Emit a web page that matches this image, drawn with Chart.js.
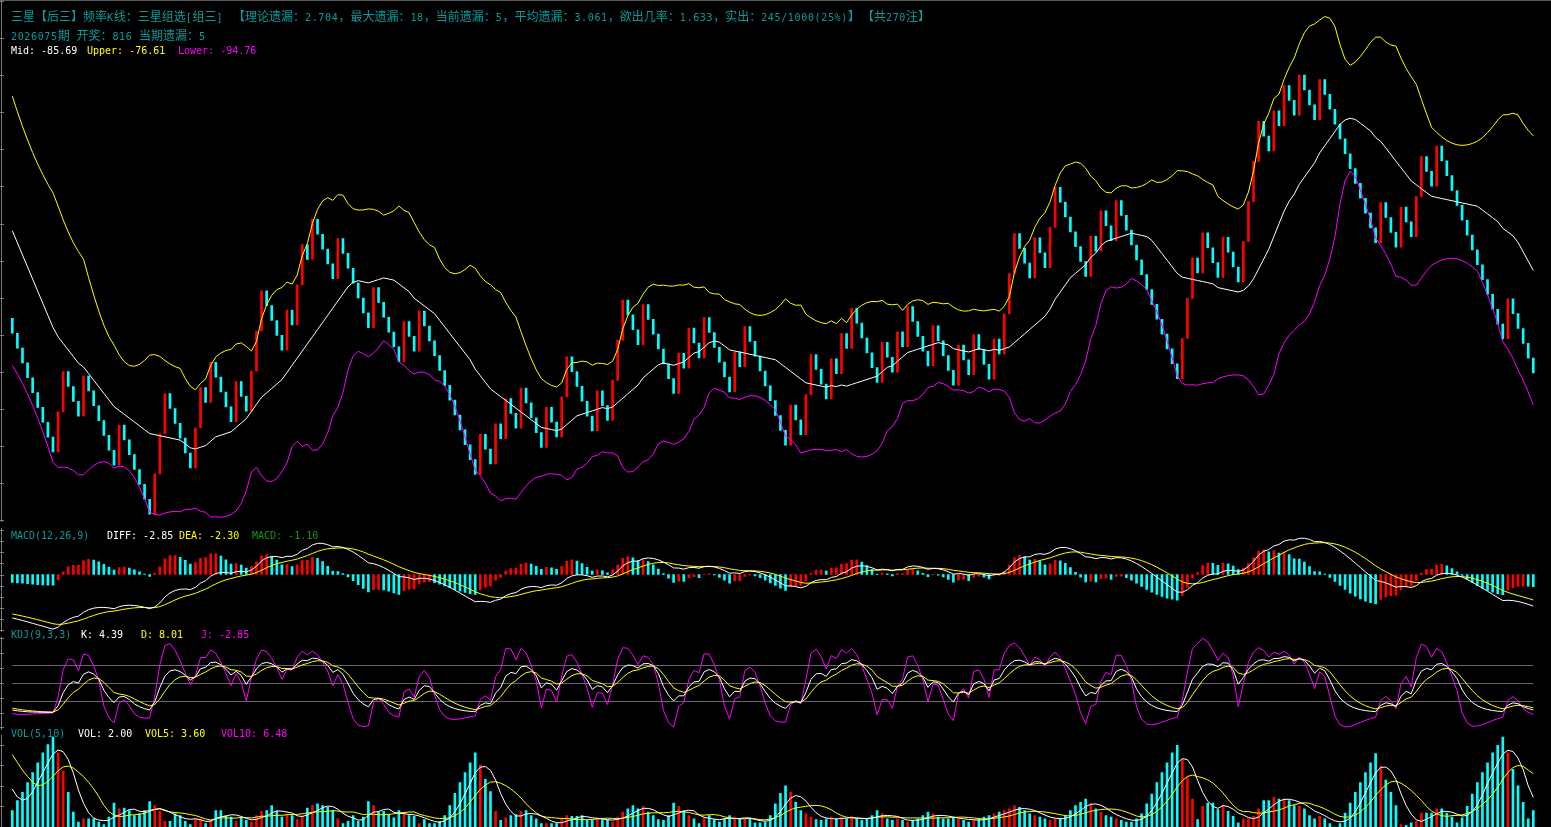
<!DOCTYPE html>
<html lang="zh">
<head>
<meta charset="UTF-8">
<title>三星【后三】频率K线</title>
<script src="https://cdn.jsdelivr.net/npm/chart.js"></script>
<style>
  html, body { margin: 0; padding: 0; background: #000; width: 1551px; height: 827px; overflow: hidden; }
  canvas { position: absolute; left: 0; }
  .lbl { position: absolute; white-space: pre; line-height: 14px; z-index: 5; }
  .asc { font: 10px "DejaVu Sans Mono", monospace; }
  .cjk { font: 12px "Noto Sans CJK SC", sans-serif; }
  .wide .asc { letter-spacing: 0.65px; }
  #topline { position: absolute; left: 0; top: 0; width: 1551px; height: 1px; background: #5a5a5a; }
</style>
</head>
<body>
<div id="topline"></div>
<canvas id="main" width="1551" height="522" style="top:0"></canvas>
<canvas id="macd" width="1551" height="104" style="top:528px"></canvas>
<canvas id="kdj" width="1551" height="93" style="top:637px"></canvas>
<canvas id="vol" width="1551" height="92" style="top:735px"></canvas>

<script>
// one flag per period: 1 = red (hit), 0 = cyan (miss)
const hits = [
  0,0,0,0,0,0,0,0,0,1, 1,0,0,0,1,0,0,0,0,0, 0,1,0,0,0,0,0,0,1,1, 1,0,0,0,0,0,1,1,0,1,
  0,0,0,0,1,0,0,1,1,1, 0,0,0,0,1,0,1,1,0,1, 0,0,0,0,1,0,0,0,0,0, 0,1,0,0,0,0,0,1,0,0,
  1,0,0,0,0,0,0,0,0,0, 0,0,1,0,0,1,0,1,0,0, 1,0,0,0,0,1,0,0,1,1, 0,0,0,0,0,1,0,0,1,1,
  1,0,0,0,1,0,0,0,0,0, 0,1,0,1,0,0,1,0,0,0, 0,0,1,0,1,0,0,0,0,0, 0,0,0,1,0,0,1,1,0,0,
  0,1,0,1,0,1,0,0,0,0, 0,1,0,0,1,0,1,0,0,0, 0,1,0,0,0,0,1,0,0,1, 0,0,0,1,0,1,1,1,0,0,
  0,1,0,0,1,1,0,0,0,0, 0,0,1,0,1,0,0,1,0,0, 0,0,0,0,0,0,0,0,0,0, 1,1,1,0,1,0,0,0,1,0,
  0,0,1,1,1,1,0,0,1,0, 1,0,0,1,0,0,0,1,0,0, 0,0,0,0,0,0,0,0,0,1, 0,0,0,1,0,0,1,1,0,0,
  1,0,0,0,0,0,0,0,0,0, 0,0,0,0,1,0,0,0,0,0
];
// periods before the first candle (estimated, only warm up the indicators)
const preHits = [
  0,0,1,0, 0,0,1,0, 0,0,1,0, 0,0,1,0, 0,0,1,0, 0,0,1,0,
  0,0,0,0,0,0,0,0,0,0,0,0,0,0,0,0, 1, 0,0,0,0
];
const firstOpen = -88.89;   // open of the first candle
const hitStep = 2.704;      // 理论遗漏 2.704
const missStep = -1;

// VOL bars, read per period
const vol = [
  2.0,3.2,4.2,5.4,6.6,7.8,9.0,10.0,10.9,9.0,
  6.8,4.2,1.8,0.6,1.0,1.0,1.0,0.6,0.3,1.2,
  2.9,2.2,2.3,2.0,1.4,1.6,2.0,3.1,2.6,1.9,
  0.7,0.7,1.6,1.4,0.7,0.3,1.0,1.0,0.4,0.8,
  2.0,2.0,1.4,1.2,0.7,1.1,0.8,0.6,1.4,1.9,
  2.0,2.6,1.9,1.2,1.4,1.4,0.9,1.4,2.3,2.6,
  2.8,2.6,2.4,2.0,1.0,0.4,0.7,1.4,0.7,1.2,
  3.1,2.6,1.8,1.9,1.5,1.1,2.0,1.6,1.4,1.3,
  0.4,0.9,0.4,0.4,0.7,1.4,2.6,4.1,5.4,6.6,
  7.8,9.0,7.5,5.8,4.3,1.9,0.8,1.1,1.4,1.5,
  1.9,2.0,1.4,1.0,0.4,0.4,0.4,0.4,1.0,1.4,
  1.3,1.3,1.4,0.8,0.8,1.0,0.9,0.9,0.6,1.2,
  1.8,2.2,2.6,2.2,2.5,1.8,1.4,0.9,0.8,1.4,
  2.9,2.5,2.0,1.4,1.0,0.4,1.1,1.4,0.9,0.6,
  1.0,1.4,1.2,1.0,0.9,1.0,0.5,0.5,0.6,1.4,
  2.8,4.1,5.0,4.2,3.0,2.0,1.6,1.2,0.9,0.8,
  1.0,1.2,1.0,1.2,1.0,1.3,1.0,0.8,1.0,1.4,
  2.0,1.6,1.0,0.8,1.0,0.8,0.6,0.8,1.0,1.4,
  1.8,1.6,1.2,1.0,1.0,1.2,1.0,0.8,0.6,0.8,
  1.0,1.2,1.4,1.6,1.8,2.0,2.2,2.6,2.4,2.0,
  1.6,1.4,1.2,1.0,0.8,1.0,1.0,1.4,2.0,2.6,
  3.0,3.4,2.8,2.2,1.8,1.4,1.2,1.0,0.8,0.6,
  0.6,1.0,1.6,2.8,4.0,5.4,6.6,7.8,9.0,9.9,
  8.2,6.0,3.4,0.9,2.5,2.9,2.9,2.1,2.6,1.9,
  1.3,0.5,1.0,1.0,1.3,2.2,3.2,3.2,3.6,3.4,
  3.4,3.2,2.6,2.5,2.2,1.4,1.0,1.3,1.0,0.4,
  0.0,0.4,1.7,2.9,4.2,5.4,6.6,7.8,8.9,7.4,
  5.7,4.2,2.6,0.3,0.2,0.5,0.7,1.7,1.7,1.7,
  2.2,2.2,1.7,1.2,0.5,1.1,2.5,4.0,5.4,6.6,
  7.8,9.0,9.9,10.9,9.0,7.0,5.0,3.0,1.0,2.0
];
const preVol = [13.0, 13.5, 13.0, 13.5, 12.0, 8.0, 6.0, 4.5, 2.5];

const RED = '#ff0000', CYAN = '#00ffff', WHITE = '#ffffff', YELLOW = '#ffff00', MAGENTA = '#ff00ff';
const TEAL = '#0a9c9c', GREEN = '#119a11', GRAY = '#7a7a7a';

// ---- build candles ----
const all = preHits.concat(hits);
const P = preHits.length;
let level = firstOpen - preHits.reduce((s, h) => s + (h ? hitStep : missStep), 0);
const opens = [], closes = [];
all.forEach(h => { opens.push(level); level += h ? hitStep : missStep; closes.push(level); });
const highs = all.map((_, i) => Math.max(opens[i], closes[i]));
const lows = all.map((_, i) => Math.min(opens[i], closes[i]));

// ---- indicators ----
function ema(arr, n) {
  const a = 2 / (n + 1), out = [];
  arr.forEach((v, i) => out.push(i === 0 ? v : a * v + (1 - a) * out[i - 1]));
  return out;
}
const mid = [], upper = [], lower = [];
closes.forEach((c, i) => {
  if (i < 19) { mid.push(null); upper.push(null); lower.push(null); return; }
  const w = closes.slice(i - 19, i + 1);
  const m = w.reduce((s, v) => s + v, 0) / 20;
  const sd = Math.sqrt(w.reduce((s, v) => s + (v - m) * (v - m), 0) / 20);
  mid.push(m); upper.push(m + 2 * sd); lower.push(m - 2 * sd);
});
const e12 = ema(closes, 12), e26 = ema(closes, 26);
const diff = e12.map((v, i) => v - e26[i]);
const dea = ema(diff, 9);
const hist = diff.map((v, i) => 2 * (v - dea[i]));
const kk = [], dd = [], jj = [];
let K = 50, D = 50;
closes.forEach((c, i) => {
  const s = Math.max(0, i - 8);
  const hh = Math.max(...highs.slice(s, i + 1)), ll = Math.min(...lows.slice(s, i + 1));
  const rsv = hh === ll ? 50 : (c - ll) / (hh - ll) * 100;
  K = (2 * K + rsv) / 3; D = (2 * D + K) / 3;
  kk.push(K); dd.push(D); jj.push(3 * K - 2 * D);
});
const vAll = preVol.concat(vol), VP = preVol.length;
function ma(arr, n) { return arr.map((_, i) => i < n - 1 ? null : arr.slice(i - n + 1, i + 1).reduce((s, v) => s + v, 0) / n); }
const vma5 = ma(vAll, 5).slice(VP), vma10 = ma(vAll, 10).slice(VP);

const vis = a => a.slice(P);
const labels = hits.map((_, i) => i + 1);
const candles = hits.map((_, i) => [opens[P + i], closes[P + i]]);
const candleColors = hits.map(h => h ? RED : CYAN);
const histVis = vis(hist);
const histColors = histVis.map((v, i) => {
  const prev = hist[P + i - 1];
  return v >= prev ? RED : CYAN;
});

// ---- left axis + guide lines ----
const frame = {
  id: 'frame',
  beforeDatasetsDraw(chart, args, opts) {
    if (!opts.guides) return;
    const { ctx, scales: { x, y } } = chart;
    ctx.save();
    ctx.strokeStyle = '#666666'; ctx.lineWidth = 1;
    const x0 = x.getPixelForValue(0), x1 = x.getPixelForValue(labels.length - 1);
    opts.guides.forEach(g => {
      const py = Math.round(y.getPixelForValue(g)) + 0.5;
      ctx.beginPath(); ctx.moveTo(x0, py); ctx.lineTo(x1, py); ctx.stroke();
    });
    ctx.restore();
  },
  afterDraw(chart, args, opts) {
    const { ctx, chartArea, scales: { y } } = chart;
    ctx.save();
    ctx.strokeStyle = GRAY; ctx.lineWidth = 1;
    ctx.beginPath();
    ctx.moveTo(1.5, chartArea.top); ctx.lineTo(1.5, chartArea.bottom);
    for (let v = Math.ceil(y.min / opts.step) * opts.step; v <= y.max; v += opts.step) {
      const py = Math.round(y.getPixelForValue(v)) + 0.5;
      ctx.moveTo(0, py); ctx.lineTo(4, py);
    }
    ctx.stroke();
    ctx.restore();
  }
};

function line(data, color) {
  return { type: 'line', data, borderColor: color, borderWidth: 1, pointRadius: 0, tension: 0, order: 0, clip: false };
}
function panel(id, yMin, yMax, datasets, frameOpts) {
  return new Chart(document.getElementById(id), {
    type: 'bar',
    data: { labels, datasets },
    options: {
      responsive: false, animation: false, devicePixelRatio: 1,
      layout: { padding: { left: 9.76, right: 15.14, top: 0, bottom: 0 } },
      plugins: { legend: { display: false }, tooltip: { enabled: false }, frame: frameOpts },
      scales: {
        x: { display: false },
        y: { display: false, min: yMin, max: yMax }
      }
    },
    plugins: [frame]
  });
}

panel('main', -102.61, -67.435, [
  line(vis(upper), YELLOW), line(vis(mid), WHITE), line(vis(lower), MAGENTA),
  { data: candles, backgroundColor: candleColors, barThickness: 2, order: 1 }
], { step: 2.5 });

panel('macd', -5.18, 4.19, [
  line(vis(diff), WHITE), line(vis(dea), YELLOW),
  { data: histVis, backgroundColor: histColors, barThickness: 2, order: 1 }
], { step: 1 });

panel('kdj', -29.46, 127.1, [
  line(vis(kk), WHITE), line(vis(dd), YELLOW), line(vis(jj), MAGENTA)
], { step: 25, guides: [20, 50, 80] });

panel('vol', 0, 11.165, [
  line(vma5, WHITE), line(vma10, YELLOW),
  { data: vol, backgroundColor: candleColors, barThickness: 2, order: 1 }
], { step: 2.5 });

// ---- text ----
function txt(x, y, s, color, wide) {
  const d = document.createElement('div');
  d.className = 'lbl' + (wide ? ' wide' : '');
  d.style.left = x + 'px'; d.style.top = (y - 7) + 'px'; d.style.color = color;
  s.match(/[\u0000-\u00ff]+|[^\u0000-\u00ff]+/g).forEach(run => {
    const sp = document.createElement('span');
    sp.textContent = run;
    sp.className = run.charCodeAt(0) > 255 ? 'cjk' : 'asc';
    d.appendChild(sp);
  });
  document.body.appendChild(d);
}
txt(11, 14, '三星【后三】频率K线：三星组选[组三]', TEAL, true);
txt(233, 14, '【理论遗漏：2.704，最大遗漏：18，当前遗漏：5，平均遗漏：3.061，欲出几率：1.633，实出：245/1000(25%)】', TEAL, true);
txt(862, 14, '【共270注】', TEAL, true);
txt(11, 33, '2026075期 开奖：816 当期遗漏：5', TEAL, true);
txt(11, 49, 'Mid: -85.69', WHITE);
txt(87, 49, 'Upper: -76.61', YELLOW);
txt(178, 49, 'Lower: -94.76', MAGENTA);
txt(11, 534, 'MACD(12,26,9)', TEAL);
txt(107, 534, 'DIFF: -2.85', WHITE);
txt(179, 534, 'DEA: -2.30', YELLOW);
txt(252, 534, 'MACD: -1.10', GREEN);
txt(11, 633, 'KDJ(9,3,3)', TEAL);
txt(81, 633, 'K: 4.39', WHITE);
txt(141, 633, 'D: 8.01', YELLOW);
txt(201, 633, 'J: -2.85', MAGENTA);
txt(11, 732, 'VOL(5,10)', TEAL);
txt(78, 732, 'VOL: 2.00', WHITE);
txt(145, 732, 'VOL5: 3.60', YELLOW);
txt(221, 732, 'VOL10: 6.48', MAGENTA);
</script>
</body>
</html>
